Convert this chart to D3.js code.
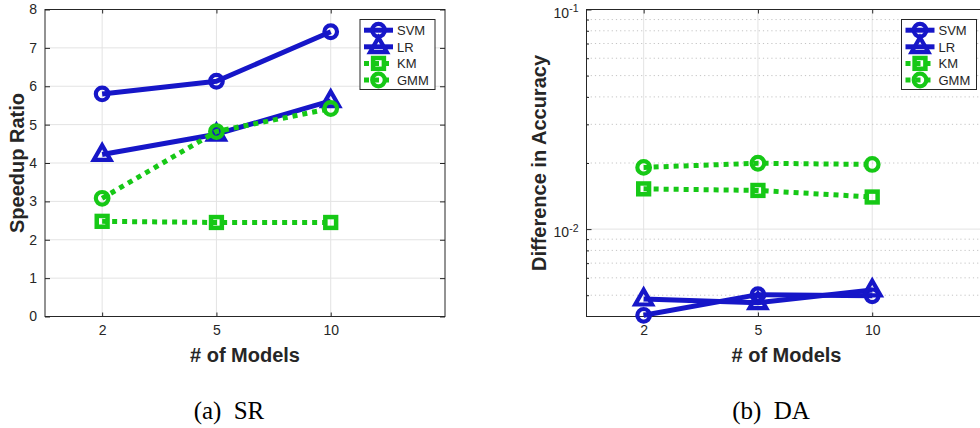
<!DOCTYPE html>
<html>
<head>
<meta charset="utf-8">
<script src="https://cdn.jsdelivr.net/npm/d3@7"></script>
<style>
  html, body { margin: 0; padding: 0; background: #fff; }
  svg { display: block; }
  text { font-family: "Liberation Sans", Arial, Helvetica, sans-serif; fill: #262626; }
  .caption { font-family: "Liberation Serif", "Times New Roman", serif; fill: #000; }
</style>
</head>
<body>
<svg id="fig" width="980" height="428"></svg>
<script>
// ---- data ----
const models = ["2", "5", "10"];
const seriesNames = ["SVM", "LR", "KM", "GMM"];

// (a) speedup ratio
const srSVM = [5.80, 6.13, 7.42];
const srLR  = [4.22, 4.75, 5.62];
const srKM  = [2.48, 2.45, 2.45];
const srGMM = [3.08, 4.82, 5.42];

// (b) difference in accuracy (log scale)
const daSVM = [0.00405, 0.00503, 0.00497];
const daLR  = [0.00480, 0.00462, 0.00528];
const daKM  = [0.01525, 0.01500, 0.01400];
const daGMM = [0.01910, 0.01995, 0.01970];

const srTicks = [0, 1, 2, 3, 4, 5, 6, 7, 8];
const daMajorTicks = [0.01, 0.1];
const daMinorTicks = [0.005, 0.006, 0.007, 0.008, 0.009, 0.02, 0.03, 0.04, 0.05, 0.06, 0.07, 0.08, 0.09];
const daGridMinor = [0.004].concat(daMinorTicks);

// ---- styles ----
const BLUE = "#1616c8";
const GREEN = "#16c816";
const styles = {
  SVM: { color: BLUE,  dash: null,  marker: "circle" },
  LR:  { color: BLUE,  dash: null,  marker: "triangle" },
  KM:  { color: GREEN, dash: "5,5", marker: "square" },
  GMM: { color: GREEN, dash: "5,5", marker: "circle" }
};
const AXIS = "#262626";
const GRID = "#e3e3e3";
const LINE_W = 5;
const MARK_W = 4.2;

const svg = d3.select("#fig");

function drawMarker(g, type, color, x, y) {
  if (type === "circle") {
    g.append("circle").attr("cx", x).attr("cy", y).attr("r", 6.3)
      .attr("fill", "none").attr("stroke", color).attr("stroke-width", MARK_W);
  } else if (type === "triangle") {
    g.append("path").attr("transform", `translate(${x},${y})`)
      .attr("d", "M0,-9.3L8.4,5.4L-8.4,5.4Z")
      .attr("fill", "none").attr("stroke", color).attr("stroke-width", MARK_W)
      .attr("stroke-linejoin", "miter");
  } else if (type === "square") {
    g.append("rect").attr("x", x - 5.4).attr("y", y - 5.4).attr("width", 10.8).attr("height", 10.8)
      .attr("fill", "none").attr("stroke", color).attr("stroke-width", MARK_W + 0.3);
  }
}

function drawPanel(opts) {
  const { left, top, width, height, y, series, yLabel, yLabelX, caption, captionX, logAxis } = opts;
  const g = svg.append("g");
  const x = d3.scaleLinear().domain([0.5, 4]).range([left, left + width]);
  const idx = models.map((_, i) => i + 1);
  const bottom = top + height, right = left + width;

  // grid
  const grid = g.append("g");
  grid.selectAll("line.gx").data(idx).join("line")
    .attr("x1", d => x(d)).attr("x2", d => x(d)).attr("y1", top).attr("y2", bottom)
    .attr("stroke", GRID).attr("stroke-width", 1);
  const majorY = logAxis ? daMajorTicks : srTicks.slice(1, -1);
  grid.selectAll("line.gy").data(majorY).join("line")
    .attr("x1", left).attr("x2", right).attr("y1", d => y(d)).attr("y2", d => y(d))
    .attr("stroke", GRID).attr("stroke-width", 1);
  if (logAxis) {
    grid.selectAll("line.gm").data(daGridMinor).join("line")
      .attr("x1", left).attr("x2", right).attr("y1", d => y(d)).attr("y2", d => y(d))
      .attr("stroke", "#c4c4c4").attr("stroke-width", 1).attr("stroke-dasharray", "1.2,3");
  }

  // axes with inward ticks on all four sides
  const fontSize = 14;
  const xAxis = d3.axisBottom(x).tickValues(idx).tickFormat(d => models[d - 1])
    .tickSize(-4).tickSizeOuter(0).tickPadding(9);
  g.append("g").attr("transform", `translate(0,${bottom})`).call(xAxis);
  g.append("g").attr("transform", `translate(0,${top})`)
    .call(d3.axisTop(x).tickValues(idx).tickFormat("").tickSize(-4).tickSizeOuter(0));

  let gy;
  if (logAxis) {
    gy = g.append("g").attr("transform", `translate(${left},0)`)
      .call(d3.axisLeft(y).tickValues(daMajorTicks).tickFormat(d => "10").tickSize(-5).tickSizeOuter(0).tickPadding(14));
    gy.selectAll(".tick text").each(function (d) {
      const t = d3.select(this);
      t.text("");
      t.append("tspan").text("10");
      t.append("tspan").attr("dy", "-0.55em").attr("font-size", "10.5px")
        .text(String(Math.round(Math.log10(d))));
    }).attr("x", -8).attr("dy", "0.55em");
    g.append("g").attr("transform", `translate(${left},0)`)
      .call(d3.axisLeft(y).tickValues(daMinorTicks).tickFormat("").tickSize(-2.5).tickSizeOuter(0));
    g.append("g").attr("transform", `translate(${right},0)`)
      .call(d3.axisRight(y).tickValues(daMinorTicks).tickFormat("").tickSize(-2.5).tickSizeOuter(0));
    g.append("g").attr("transform", `translate(${right},0)`)
      .call(d3.axisRight(y).tickValues(daMajorTicks).tickFormat("").tickSize(-5).tickSizeOuter(0));
  } else {
    gy = g.append("g").attr("transform", `translate(${left},0)`)
      .call(d3.axisLeft(y).tickValues(srTicks).tickFormat(d3.format("d")).tickSize(-5).tickSizeOuter(0).tickPadding(8));
    g.append("g").attr("transform", `translate(${right},0)`)
      .call(d3.axisRight(y).tickValues(srTicks).tickFormat("").tickSize(-5).tickSizeOuter(0));
  }
  g.selectAll(".domain").remove();
  g.selectAll(".tick line").attr("stroke", AXIS);
  g.selectAll(".tick text").attr("font-size", fontSize).attr("fill", AXIS)
    .attr("font-family", "'Liberation Sans', Arial, sans-serif");

  // box
  g.append("rect").attr("x", left).attr("y", top).attr("width", width).attr("height", height)
    .attr("fill", "none").attr("stroke", AXIS).attr("stroke-width", 1);

  // axis titles
  g.append("text").attr("x", left + width / 2).attr("y", 362)
    .attr("text-anchor", "middle").attr("font-size", 20).attr("font-weight", "bold")
    .text("# of Models");
  g.append("text").attr("transform", `translate(${yLabelX},${(top + bottom) / 2}) rotate(-90)`)
    .attr("text-anchor", "middle").attr("font-size", 20).attr("font-weight", "bold")
    .text(yLabel);

  // series
  const line = d3.line().x((d, i) => x(i + 1)).y(d => y(d));
  series.forEach(s => {
    const st = styles[s.name];
    const sg = g.append("g");
    sg.append("path").datum(s.values).attr("d", line)
      .attr("fill", "none").attr("stroke", st.color).attr("stroke-width", LINE_W)
      .attr("stroke-dasharray", st.dash).attr("stroke-linejoin", "round");
    s.values.forEach((v, i) => drawMarker(sg, st.marker, st.color, x(i + 1), y(v)));
  });

  // legend
  const lx = right - 85, ly = top + 10, lw = 75, lh = 70;
  const lg = g.append("g");
  lg.append("rect").attr("x", lx).attr("y", ly).attr("width", lw).attr("height", lh)
    .attr("fill", "#fff").attr("stroke", AXIS).attr("stroke-width", 1);
  seriesNames.forEach((name, i) => {
    const st = styles[name];
    const cy = ly + 10.7 + i * 16.6;
    lg.append("line").attr("x1", lx + 4).attr("x2", lx + 33).attr("y1", cy).attr("y2", cy)
      .attr("stroke", st.color).attr("stroke-width", LINE_W).attr("stroke-dasharray", st.dash);
    drawMarker(lg, st.marker, st.color, lx + 18.5, cy);
    lg.append("text").attr("x", lx + 37).attr("y", cy + 4.7).attr("font-size", 13).text(name);
  });

  // caption
  svg.append("text").attr("class", "caption").attr("x", captionX).attr("y", 419)
    .attr("text-anchor", "middle").attr("font-size", 25).attr("word-spacing", "6px")
    .text(caption);
}

const plotTop = 9.5, plotHeight = 307, plotWidth = 400;

drawPanel({
  left: 45, top: plotTop, width: plotWidth, height: plotHeight,
  y: d3.scaleLinear().domain([0, 8]).range([plotTop + plotHeight, plotTop]),
  series: [
    { name: "SVM", values: srSVM }, { name: "LR", values: srLR },
    { name: "KM", values: srKM }, { name: "GMM", values: srGMM }
  ],
  yLabel: "Speedup Ratio", yLabelX: 24, caption: "(a) SR", captionX: 229, logAxis: false
});

drawPanel({
  left: 586.5, top: plotTop, width: plotWidth, height: plotHeight,
  y: d3.scaleLog().domain([0.004, 0.1]).range([plotTop + plotHeight, plotTop]),
  series: [
    { name: "SVM", values: daSVM }, { name: "LR", values: daLR },
    { name: "KM", values: daKM }, { name: "GMM", values: daGMM }
  ],
  yLabel: "Difference in Accuracy", yLabelX: 546, caption: "(b) DA", captionX: 771, logAxis: true
});
</script>
</body>
</html>
